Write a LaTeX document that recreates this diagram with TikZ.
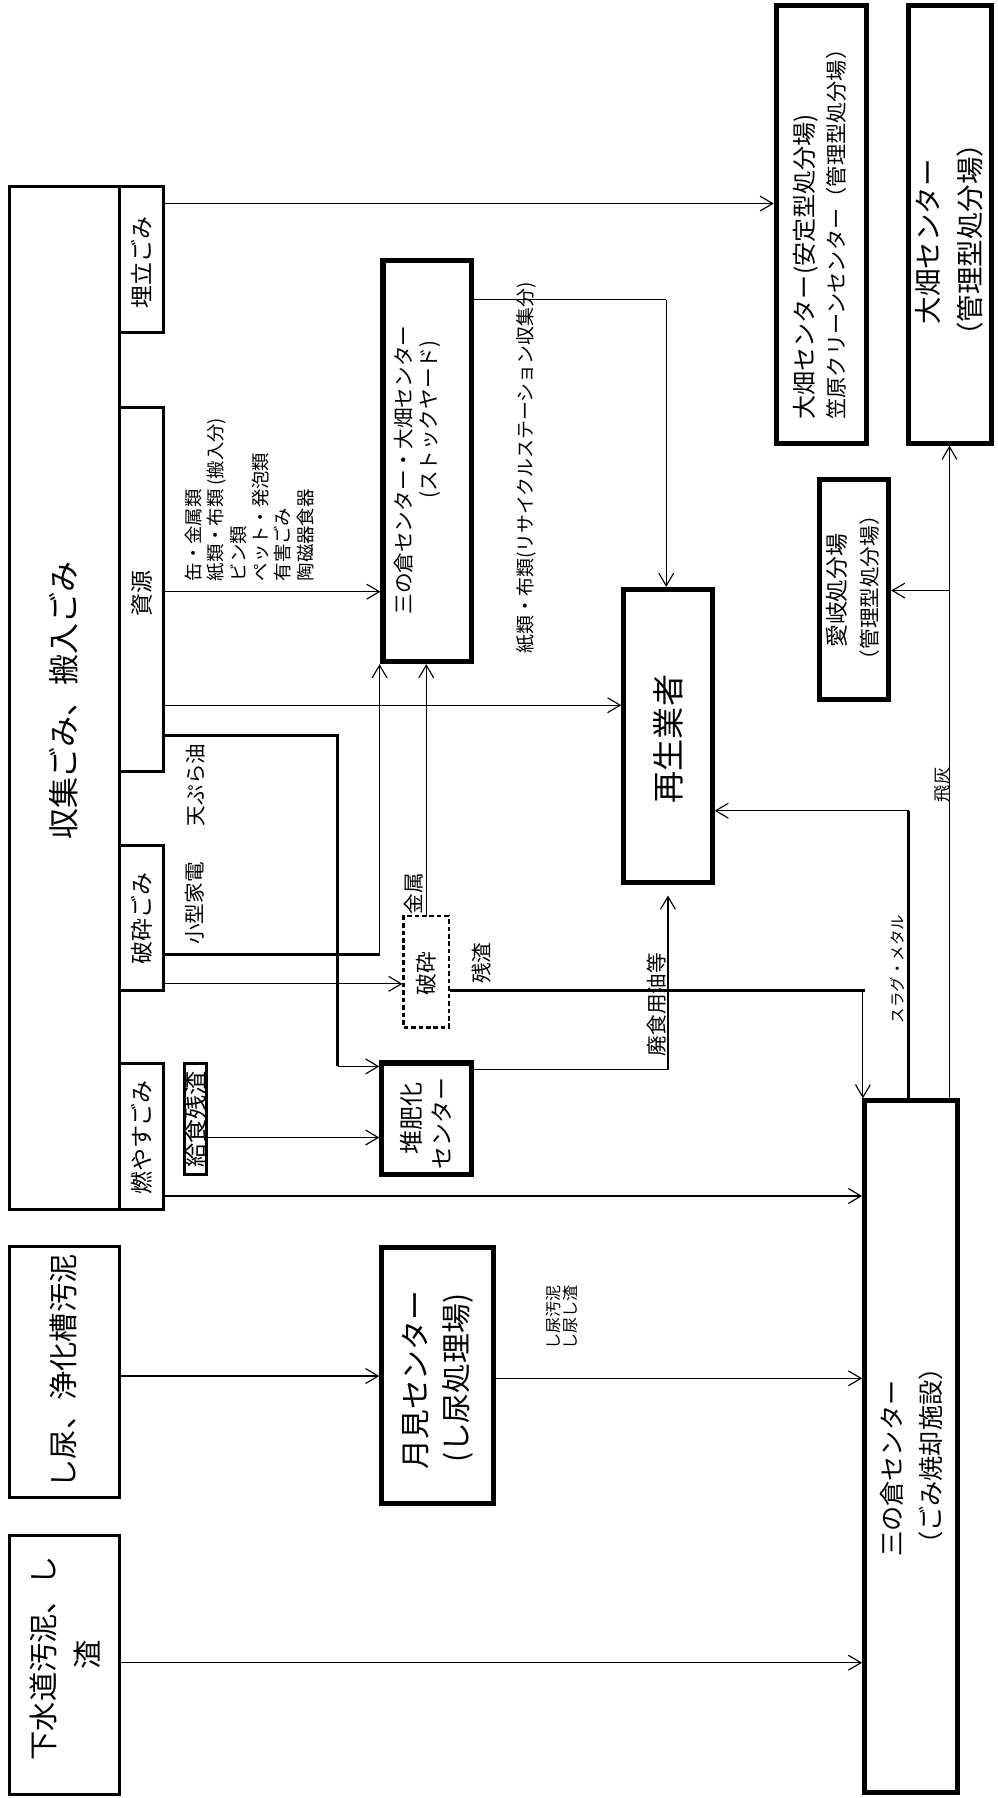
\documentclass[tikz,border=0pt]{standalone}
\usepackage{fontspec}
\setmainfont{Noto Sans CJK JP}
\usetikzlibrary{arrows.meta}
\newcommand{\jfs}[1]{\fontsize{#1}{#1}\selectfont}
\begin{document}
\begin{tikzpicture}[x=1pt,y=-1pt,
  box/.style={draw, line width=2.6pt, inner sep=0pt},
  bbox/.style={draw, line width=4.4pt, inner sep=0pt},
  dbox/.style={draw, line width=2.2pt, dash pattern=on 4pt off 2.5pt, inner sep=0pt},
  lbl/.style={inner sep=0pt, rotate=90},
  conn/.style={line width=1pt},
  arr/.style={line width=1pt, -{Straight Barb[length=11pt,width=13pt]}},
  heavy/.style={line width=2.6pt, line join=miter}]
\useasboundingbox (0,0) rectangle (870,1568);
\fill[white] (0,0) rectangle (870,1568);

% ---------- boxes ----------
\node[box, minimum width=96pt, minimum height=892pt] (big) at (56,609) {};
\node[box, minimum width=39pt, minimum height=127pt] (umetate) at (123.5,226.5) {};
\node[box, minimum width=39pt, minimum height=318pt] (shigen) at (123.5,514) {};
\node[box, minimum width=39pt, minimum height=126.5pt] (hasai) at (123.5,800.75) {};
\node[box, minimum width=39pt, minimum height=127.5pt] (moyasu) at (123.5,991.25) {};
\node[box, minimum width=20pt, minimum height=96.5pt] (kyushoku) at (170.5,975.75) {};
\node[bbox, minimum width=77pt, minimum height=349.5pt] (stock) at (372.5,402.25) {};
\node[bbox, minimum width=77pt, minimum height=256pt] (saisei) at (582.5,642) {};
\node[bbox, minimum width=78pt, minimum height=97pt] (taihi) at (372,975.5) {};
\node[dbox, minimum width=39.5pt, minimum height=97pt] (hasaibox) at (371.75,847.5) {};
\node[bbox, minimum width=97pt, minimum height=223pt] (tsukimi) at (381.5,1199.5) {};
\node[bbox, minimum width=81pt, minimum height=603pt] (sannokura) at (794.5,1261.5) {};
\node[bbox, minimum width=78.5pt, minimum height=382pt] (anpei) at (716.25,195.5) {};
\node[bbox, minimum width=73pt, minimum height=382pt] (kanri) at (828.5,195.5) {};
\node[bbox, minimum width=60pt, minimum height=192pt] (aigi) at (745,514) {};
\node[box, minimum width=96pt, minimum height=219pt] (shinyo) at (56,1196.5) {};
\node[box, minimum width=96pt, minimum height=226pt] (gesui) at (56,1452) {};

% ---------- texts ----------
\node[lbl, font=\jfs{27}] (t-shushu) at (56,611) {収集ごみ、搬入ごみ};
\node[lbl, font=\jfs{20}] (t-ume) at (123.5,229) {埋立ごみ};
\node[lbl, font=\jfs{20}] (t-shigen) at (123.5,518) {資源};
\node[lbl, font=\jfs{20}] (t-hasai) at (123.5,801) {破砕ごみ};
\node[lbl, font=\jfs{20}] (t-moyasu) at (123.5,992) {燃やすごみ};
\node[lbl, font=\jfs{21}] (t-kyu) at (170.5,976) {給食残渣};
\node[lbl, font=\fontsize{16}{19.5}\selectfont, align=left, anchor=north west] (t-list) at (161,507)
  {缶・金属類\\紙類・布類 (搬入分)\\ビン類\\ペット・発泡類\\有害ごみ\\陶磁器食器};
\node[lbl, font=\jfs{16.5}, anchor=west] (t-rs) at (459,570) {紙類・布類(リサイクルステーション収集分)};
\node[lbl, font=\jfs{18}] (t-stock1) at (351.6,410) {三の倉センター・大畑センター};
\node[lbl, font=\jfs{18}] (t-stock2) at (375,366) {(ストックヤード)};
\node[lbl, font=\jfs{18}] (t-tempura) at (171,684.5) {天ぷら油};
\node[lbl, font=\jfs{18}] (t-kogata) at (170,788) {小型家電};
\node[lbl, font=\jfs{18}] (t-kinzoku) at (361,779.5) {金属};
\node[lbl, font=\jfs{19}] (t-hasaiin) at (371.75,849) {破砕};
\node[lbl, font=\jfs{18}] (t-zansa) at (420,840) {残渣};
\node[lbl, font=\jfs{21}] (t-taihi1) at (359,975.5) {堆肥化};
\node[lbl, font=\jfs{20}] (t-taihi2) at (385,979.5) {センター};
\node[lbl, font=\jfs{18}] (t-haiyu) at (573,876) {廃食用油等};
\node[lbl, font=\jfs{28}] (t-saisei) at (582.5,644.5) {再生業者};
\node[lbl, font=\jfs{26}] (t-tsuki1) at (362,1203.5) {月見センター};
\node[lbl, font=\jfs{26}] (t-tsuki2) at (399,1202) {(し尿処理場)};
\node[lbl, font=\jfs{14}, anchor=west] (t-osui1) at (482.8,1177) {し尿汚泥};
\node[lbl, font=\jfs{14}, anchor=west] (t-osui2) at (497.8,1177) {し尿し渣};
\node[lbl, font=\jfs{22}, anchor=west] (t-sanno1) at (778,1358) {三の倉センター};
\node[lbl, font=\jfs{22}, anchor=west] (t-sanno2) at (811.5,1358) {（ごみ焼却施設）};
\node[lbl, font=\jfs{21}, anchor=west] (t-anpei1) at (703,366) {大畑センター(安定型処分場)};
\node[lbl, font=\jfs{18.5}, anchor=west] (t-anpei2) at (729,366) {笠原クリーンセンター（管理型処分場）};
\node[lbl, font=\jfs{24}] (t-kanri1) at (809,211) {大畑センター};
\node[lbl, font=\jfs{24}] (t-kanri2) at (845.6,209) {（管理型処分場）};
\node[lbl, font=\jfs{20}] (t-aigi1) at (729.6,515) {愛岐処分場};
\node[lbl, font=\jfs{18}] (t-aigi2) at (758,512.5) {（管理型処分場）};
\node[lbl, font=\jfs{13.5}] (t-slag) at (783,845) {スラグ・メタル};
\node[lbl, font=\jfs{15}] (t-hibai) at (822,684.5) {飛灰};
\node[lbl, font=\jfs{25.5}] (t-shinyo) at (55,1196) {し尿、浄化槽汚泥};
\node[lbl, font=\jfs{25.5}] (t-gesui1) at (38,1446) {下水道汚泥、し};
\node[lbl, font=\jfs{25.5}] (t-gesui2) at (76,1443) {渣};

% ---------- junction coordinates ----------
\coordinate (tp1) at (294.7,641.6);
\coordinate (tp2) at (294.7,930);
\coordinate (kg1) at (331,832.5);
\coordinate (zs1) at (752.5,864);
\coordinate (ho1) at (582.5,933);
\coordinate (ho2) at (582.5,781);
\coordinate (sy1) at (581,261.5);
\coordinate (hb1) at (828,515);
\coordinate (sl1) at (792.6,707);

% ---------- connectors ----------
\draw[arr] (umetate.east |- 0,177.5) -- (anpei.west |- 0,177.5);
\draw[arr] (shigen.east |- 0,516) -- (stock.west |- 0,516);
\draw[arr] (shigen.east |- 0,615) -- (saisei.west |- 0,615);
\draw[heavy] (shigen.east |- tp1) -- (tp1) -- (tp2);
\draw[arr] (tp2) -- (taihi.west |- tp2);
\draw[heavy] (hasai.east |- kg1) -- (kg1);
\draw[arr] (kg1) -- (kg1 |- stock.south);
\draw[arr] (hasai.east |- 0,858) -- (hasaibox.west |- 0,858);
\draw[arr] (hasaibox.north) -- (hasaibox.north |- stock.south);
\draw[heavy] (hasaibox.east |- zs1) -- (754,864);
\draw[arr] (zs1) -- (zs1 |- sannokura.north);
\draw[arr] (moyasu.east |- 0,1043) -- (sannokura.west |- 0,1043);
\draw[arr] (kyushoku.east |- 0,992) -- (taihi.west |- 0,992);
\draw[conn] (taihi.east |- ho1) -- (ho1);
\draw[arr] (ho1) -- (ho2);
\draw[conn] (stock.east |- sy1) -- (sy1);
\draw[arr] (sy1) -- (sy1 |- saisei.north);
\draw[arr] (hb1 |- sannokura.north) -- (hb1 |- kanri.south);
\draw[arr] (hb1) -- (aigi.east |- hb1);
\draw[heavy] (sl1 |- sannokura.north) -- (sl1);
\draw[arr] (sl1) -- (saisei.east |- sl1);
\draw[arr] (tsukimi.east |- 0,1202) -- (sannokura.west |- 0,1202);
\draw[arr] (shinyo.east |- 0,1200) -- (tsukimi.west |- 0,1200);
\draw[arr] (gesui.east |- 0,1450) -- (sannokura.west |- 0,1450);
\end{tikzpicture}
\end{document}
